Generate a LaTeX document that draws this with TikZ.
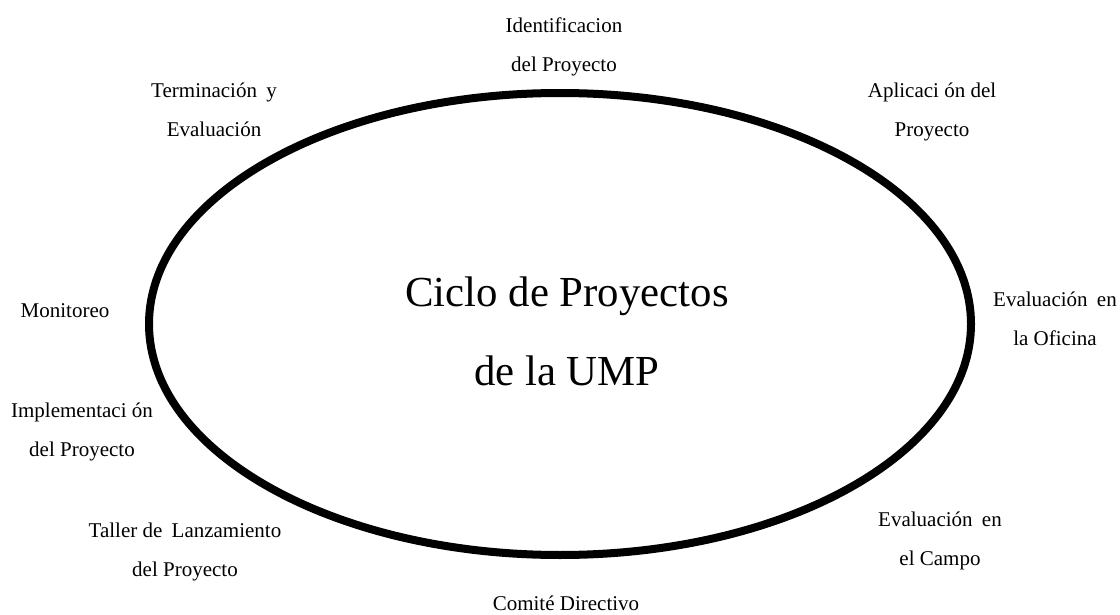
\documentclass[tikz,border=0pt]{standalone}
\usepackage{fontspec}
\setmainfont{Liberation Serif}
\newfontfamily\tnr{Liberation Serif}
\usetikzlibrary{shapes.geometric}
\begin{document}
\begin{tikzpicture}[x=0.5pt,y=-0.5pt,
  lbl/.style={align=center,font=\tnr\fontsize{10.5}{19.5}\selectfont,inner sep=0pt,anchor=base},
  ttl/.style={align=center,font=\tnr\fontsize{21.4}{39.5}\selectfont,inner sep=0pt,anchor=base},
  ring/.style={ellipse,draw,line width=4pt,minimum width=411pt,minimum height=231pt,inner sep=0pt}]
\useasboundingbox (0,0) rectangle (1120,615);
\node[ring] (ring) at (560,324) {};
\node[ttl] (title) at (567,385) {Ciclo de Proyectos\\de la UMP};
\node[lbl] (ident) at (564,72) {Identificacion\\del Proyecto};
\node[lbl] (apl) at (932,137) {Aplicaci ón del\\Proyecto};
\node[lbl] (evof) at (1055,345) {Evaluación\hspace{2pt} en\\la Oficina};
\node[lbl] (evca) at (940,565) {Evaluación\hspace{2pt} en\\el Campo};
\node[lbl] (comite) at (566,610) {Comité Directivo};
\node[lbl] (taller) at (185,576) {Taller de\hspace{2pt} Lanzamiento\\del Proyecto};
\node[lbl] (impl) at (82,456) {Implementaci ón\\del Proyecto};
\node[lbl] (monit) at (65,317) {Monitoreo};
\node[lbl] (term) at (214,137) {Terminación\hspace{2pt} y\\Evaluación};
\end{tikzpicture}
\end{document}
